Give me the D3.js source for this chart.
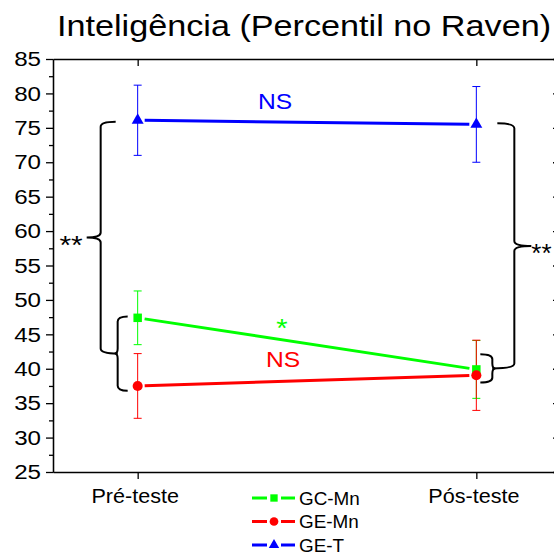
<!DOCTYPE html>
<html>
<head>
<meta charset="utf-8">
<title>Inteligência (Percentil no Raven)</title>
<script src="https://d3js.org/d3.v7.min.js"></script>
<style>
  body { margin: 0; background: #fff; }
  text { font-family: "Liberation Sans", Arial, sans-serif; }
  .axis path, .axis line { stroke: #000; stroke-width: 1.3px; }
  .brace { fill: none; stroke: #000; stroke-width: 2px; }
</style>
</head>
<body>
<svg id="chart" width="554" height="554"></svg>
<script>
// data
const phases = ["Pré-teste", "Pós-teste"];
const groupNames = ["GC-Mn", "GE-Mn", "GE-T"];
const groupColors = ["#00ff00", "#ff0000", "#0000ff"];
const gcMnMean = [47.4, 39.9];
const gcMnErr = [3.9, 4.2];
const geMnMean = [37.5, 39.05];
const geMnErr = [4.7, 5.1];
const geTMean = [76.1, 75.5];
const geTErr = [5.1, 5.5];
const yTicks = [25, 30, 35, 40, 45, 50, 55, 60, 65, 70, 75, 80, 85];
const yMinorTicks = [27.5, 32.5, 37.5, 42.5, 47.5, 52.5, 57.5, 62.5, 67.5, 72.5, 77.5, 82.5];

// significance braces (ends in data units)
const leftSmallSpan = [47.6, 36.8];
const rightSmallSpan = [42.1, 38.0];
const leftBigTop = 75.9;
const rightBigTop = 75.65;

var svg = d3.select("#chart");

var x = d3.scalePoint().domain(phases).range([53, 561]).padding(0.25);
var y = d3.scaleLinear().domain([25, 85]).range([472, 59]);

var series = [
  { name: groupNames[0], color: groupColors[0], mean: gcMnMean, err: gcMnErr, shape: d3.symbolSquare, size: 72 },
  { name: groupNames[1], color: groupColors[1], mean: geMnMean, err: geMnErr, shape: d3.symbolCircle, size: 80 },
  { name: groupNames[2], color: groupColors[2], mean: geTMean, err: geTErr, shape: d3.symbolTriangle, size: 62 }
];

// the original fonts look a bit wider than Arial, so stretch text sideways
function label(px, py, str, size, anchor, fill, sx) {
  return svg.append("text")
    .attr("transform", "translate(" + px + "," + py + ") scale(" + sx + ",1)")
    .attr("text-anchor", anchor)
    .attr("font-size", size)
    .attr("fill", fill)
    .text(str);
}

// title
label(304, 36, "Inteligência (Percentil no Raven)", 30, "middle", "#000", 1.14);

// axes
var sxTick = 1.15;
svg.append("g").attr("class", "axis")
  .attr("transform", "translate(53,0)")
  .call(d3.axisLeft(y).tickValues(yTicks).tickSize(7).tickPadding(5).tickSizeOuter(0))
  .selectAll("text")
    .attr("font-size", 21).attr("fill", "#000").style("font-family", "Liberation Sans")
    .attr("x", -12 / sxTick).attr("transform", "scale(" + sxTick + ",1)");

svg.append("g").attr("class", "axis")
  .attr("transform", "translate(53,0)")
  .call(d3.axisLeft(y).tickValues(yMinorTicks).tickSize(4).tickFormat("").tickSizeOuter(0));

svg.append("g").attr("class", "axis")
  .attr("transform", "translate(561,0)")
  .call(d3.axisLeft(y).tickValues(yTicks).tickSize(8).tickFormat("").tickSizeOuter(0));

svg.append("g").attr("class", "axis")
  .attr("transform", "translate(0,472)")
  .call(d3.axisBottom(x).tickSize(7).tickPadding(10).tickSizeOuter(0))
  .selectAll("text")
    .attr("font-size", 20).attr("fill", "#000").style("font-family", "Liberation Sans")
    .attr("transform", "translate(-3,0) scale(1.08,1)");

svg.append("g").attr("class", "axis")
  .attr("transform", "translate(0,59)")
  .call(d3.axisBottom(x).tickSize(7).tickFormat("").tickSizeOuter(0));

// lines with a small gap round each marker
var gap = 7;
series.forEach(function(s) {
  var x1 = x(phases[0]), y1 = y(s.mean[0]);
  var x2 = x(phases[1]), y2 = y(s.mean[1]);
  var len = Math.hypot(x2 - x1, y2 - y1);
  var ux = (x2 - x1) / len, uy = (y2 - y1) / len;
  svg.append("line")
    .attr("x1", x1 + ux * gap).attr("y1", y1 + uy * gap)
    .attr("x2", x2 - ux * gap).attr("y2", y2 - uy * gap)
    .attr("stroke", s.color).attr("stroke-width", 3);
});

// error bars and markers
series.forEach(function(s) {
  var g = svg.append("g");
  phases.forEach(function(p, i) {
    var cx = x(p);
    var top = y(s.mean[i] + s.err[i]), bot = y(s.mean[i] - s.err[i]);
    g.append("line").attr("x1", cx).attr("x2", cx).attr("y1", top).attr("y2", bot)
      .attr("stroke", s.color).attr("stroke-width", 1);
    [top, bot].forEach(function(yy) {
      g.append("line").attr("x1", cx - 4).attr("x2", cx + 4).attr("y1", yy).attr("y2", yy)
        .attr("stroke", s.color).attr("stroke-width", 1);
    });
  });
});
series.forEach(function(s) {
  phases.forEach(function(p, i) {
    svg.append("path")
      .attr("d", d3.symbol().type(s.shape).size(s.size)())
      .attr("transform", "translate(" + x(p) + "," + y(s.mean[i]) + ")")
      .attr("fill", s.color);
  });
});

// curly brace: vertical at xv, ends hook towards dir, tip points the other way
function brace(xv, y1, y2, dir, hook1, hook2, tip) {
  var r = 5, ym = (y1 + y2) / 2;
  var d = "M" + (xv + dir * hook1) + "," + y1 +
    " Q" + xv + "," + y1 + " " + xv + "," + (y1 + r) +
    " L" + xv + "," + (ym - r) +
    " Q" + xv + "," + ym + " " + (xv - dir * tip) + "," + ym +
    " Q" + xv + "," + ym + " " + xv + "," + (ym + r) +
    " L" + xv + "," + (y2 - r) +
    " Q" + xv + "," + y2 + " " + (xv + dir * hook2) + "," + y2;
  svg.append("path").attr("class", "brace").attr("d", d);
  return ym;
}

var xPre = x(phases[0]), xPos = x(phases[1]);
var lsMid = brace(xPre - 20, y(leftSmallSpan[0]), y(leftSmallSpan[1]), 1, 10, 10, 3);
var lbMid = brace(xPre - 37, y(leftBigTop), lsMid, 1, 15, 17, 14);

var rsMid = brace(xPos + 16, y(rightSmallSpan[0]), y(rightSmallSpan[1]), -1, 12, 12, 3);
var rbMid = brace(xPos + 38, y(rightBigTop), rsMid, -1, 17, 22, 17);

// significance labels
label(xPre - 55, lbMid + 16, "**", 26, "end", "#000", 1.15);
label(xPos + 55, rbMid + 16, "**", 26, "start", "#000", 1.0);

label(275, 109, "NS", 22, "middle", groupColors[2], 1.12);
label(282, 337, "*", 26, "middle", groupColors[0], 1.12);
label(283, 367, "NS", 22, "middle", groupColors[1], 1.12);

// legend
var legend = svg.append("g").attr("transform", "translate(252,498)");
series.forEach(function(s, i) {
  var row = legend.append("g").attr("transform", "translate(0," + (i * 23.5) + ")");
  row.append("line").attr("x1", 0).attr("x2", 15).attr("stroke", s.color).attr("stroke-width", 3);
  row.append("line").attr("x1", 29).attr("x2", 43).attr("stroke", s.color).attr("stroke-width", 3);
  row.append("path").attr("d", d3.symbol().type(s.shape).size(s.size * 0.75)())
    .attr("transform", "translate(22,0)").attr("fill", s.color);
  row.append("text").attr("transform", "translate(47,6.5) scale(1.05,1)")
    .attr("font-size", 18).text(s.name);
});
</script>
</body>
</html>
